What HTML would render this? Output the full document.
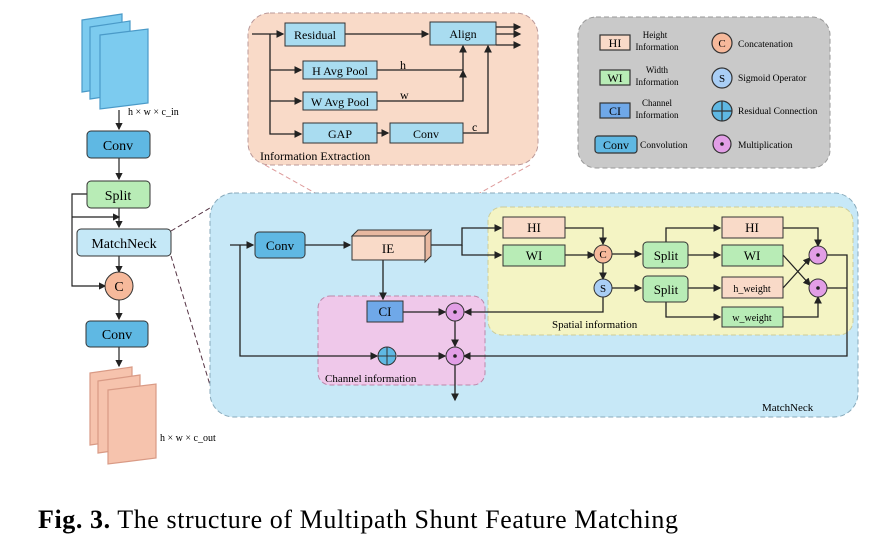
<!DOCTYPE html>
<html><head><style>body{margin:0;background:#fff}svg{display:block}text{font-family:"Liberation Serif",serif}</style></head><body>
<svg width="893" height="538" viewBox="0 0 893 538" xmlns="http://www.w3.org/2000/svg">
<defs><marker id="a" markerWidth="6" markerHeight="6" refX="5" refY="3" orient="auto"><path d="M0,0L6,3L0,6z" fill="#222"/></marker></defs>
<g stroke="#333" stroke-width="1.2" fill="none">
<g fill="#7ccbef" stroke="#4a9ac8"><path d="M82,20l40,-6v72l-40,6z"/><path d="M90,27l40,-6v72l-40,6z"/><path d="M100,35l48,-6v74l-48,6z"/></g>
<g fill="#f6c3ad" stroke="#d99a85"><path d="M90,373l42,-6v72l-42,6z"/><path d="M98,381l42,-6v72l-42,6z"/><path d="M108,390l48,-6v74l-48,6z"/></g>
</g>
<text x="128" y="115" font-size="10">h × w × c_in</text>
<text x="160" y="441" font-size="10">h × w × c_out</text>
<g stroke="#222" stroke-width="1.2" fill="none" marker-end="url(#a)">
<path d="M119,110v19"/><path d="M119,158v21"/><path d="M119,208v19"/><path d="M119,256v16"/><path d="M119,300v19"/><path d="M119,347v19"/>
<path d="M87,194h-15v92h33"/><path d="M72,217h47"/>
</g>
<g stroke="#333" fill="#5fb8e3"><rect x="87" y="131" width="63" height="27" rx="4"/><rect x="86" y="321" width="62" height="26" rx="4"/></g>
<rect x="87" y="181" width="63" height="27" rx="4" fill="#b8ecb6" stroke="#333"/>
<rect x="77" y="229" width="94" height="27" rx="4" fill="#c5e8f7" stroke="#333"/>
<circle cx="119" cy="286" r="14" fill="#f6b99b" stroke="#333"/>
<g font-size="14" text-anchor="middle"><text x="118" y="150">Conv</text><text x="118" y="200">Split</text><text x="124" y="248">MatchNeck</text><text x="119" y="291">C</text><text x="117" y="339">Conv</text></g>
<path d="M171,231L215,205M171,256L213,395" stroke="#553344" stroke-dasharray="5,3" fill="none"/>
<rect x="248" y="13" width="290" height="152" rx="22" fill="#f9dac8" stroke="#b99" stroke-dasharray="5,3"/>
<path d="M265,165L385,232M530,165L410,232" stroke="#d99" stroke-dasharray="5,3"/>
<rect x="210" y="193" width="648" height="224" rx="24" fill="#c7e8f7" stroke="#88aabb" stroke-dasharray="5,3"/>
<rect x="488" y="207" width="365" height="128" rx="14" fill="#f4f4c4" stroke="#cc9" stroke-dasharray="5,3"/>
<rect x="318" y="296" width="167" height="89" rx="12" fill="#efc8ea" stroke="#b8a" stroke-dasharray="5,3"/>
<rect x="578" y="17" width="252" height="151" rx="18" fill="#c9c9c9" stroke="#999" stroke-dasharray="5,3"/>
<g stroke="#333" stroke-width="1.2">
<rect x="600" y="35" width="30" height="15" fill="#f9dac8"/><rect x="600" y="70" width="30" height="15" fill="#b8ecb6"/><rect x="600" y="103" width="30" height="15" fill="#6fa8e8"/><rect x="595" y="136" width="42" height="17" rx="3" fill="#5fb8e3"/>
<circle cx="722" cy="43" r="10" fill="#f6b99b"/><circle cx="722" cy="78" r="10" fill="#a9cef5"/><circle cx="722" cy="111" r="10" fill="#5fb8e3"/><path d="M712,111h20M722,101v20"/><circle cx="722" cy="144" r="9" fill="#e29ee6"/>
</g>
<circle cx="722" cy="144" r="1.8" fill="#222"/>
<g font-size="12" text-anchor="middle"><text x="615" y="47">HI</text><text x="615" y="82">WI</text><text x="615" y="115">CI</text><text x="616" y="149">Conv</text><text x="722" y="47" font-size="11">C</text><text x="722" y="82" font-size="11">S</text></g>
<g font-size="9" text-anchor="middle"><text x="655" y="38">Height</text><text x="657" y="50">Information</text><text x="657" y="73">Width</text><text x="657" y="85">Information</text><text x="657" y="106">Channel</text><text x="657" y="118">Information</text></g>
<g font-size="9.5"><text x="640" y="148">Convolution</text><text x="738" y="47">Concatenation</text><text x="738" y="81">Sigmoid Operator</text><text x="738" y="114">Residual Connection</text><text x="738" y="148">Multiplication</text></g>
<g stroke="#222" stroke-width="1.3" fill="none" marker-end="url(#a)">
<path d="M252,34h31"/><path d="M345,34h83"/><path d="M270,34v100h31"/><path d="M270,70h31"/><path d="M270,101h31"/><path d="M377,133h11"/>
<path d="M377,70h86v-24"/><path d="M377,101h86v-30"/><path d="M463,133h25v-87"/>
<path d="M496,27h24"/><path d="M496,34h24"/><path d="M496,45h24"/>
</g>
<g fill="#a9dcf0" stroke="#333"><rect x="285" y="23" width="60" height="23"/><rect x="430" y="22" width="66" height="23"/><rect x="303" y="61" width="74" height="18"/><rect x="303" y="92" width="74" height="18"/><rect x="303" y="123" width="74" height="20"/><rect x="390" y="123" width="73" height="20"/></g>
<g font-size="12" text-anchor="middle"><text x="315" y="39">Residual</text><text x="463" y="38">Align</text><text x="340" y="75">H Avg Pool</text><text x="340" y="106">W Avg Pool</text><text x="340" y="138">GAP</text><text x="426" y="138">Conv</text></g>
<g font-size="12"><text x="400" y="69">h</text><text x="400" y="99">w</text><text x="472" y="131">c</text><text x="260" y="160">Information Extraction</text></g>
<g stroke="#222" stroke-width="1.3" fill="none" marker-end="url(#a)">
<path d="M230,245h23"/><path d="M305,245h45"/><path d="M240,245v111h137"/><path d="M397,356h48"/>
<path d="M383,258v41"/><path d="M403,312h42"/><path d="M455,321v25"/><path d="M455,365v35"/>
<path d="M428,245h34v-17h39"/><path d="M462,245v10h39"/><path d="M565,228h38v16"/><path d="M565,255h29"/><path d="M603,263v16"/>
<path d="M612,254h29"/><path d="M612,288h29"/><path d="M603,297v15h-138"/>
<path d="M666,242v-14h54"/><path d="M688,255h32"/><path d="M688,288h32"/><path d="M666,302v15h54"/>
<path d="M783,228h35v18"/><path d="M783,255l27,30"/><path d="M783,288l27,-30"/><path d="M783,317h35v-20"/>
<path d="M827,255h20v101h-383"/>
</g>
<path d="M827,288h20" stroke="#222" stroke-width="1.3"/>
<rect x="255" y="232" width="50" height="26" rx="4" fill="#5fb8e3" stroke="#333"/>
<path d="M352,236l6,-6h73l-6,6zM425,236l6,-6v26l-6,6z" fill="#e8b8a0" stroke="#333"/>
<rect x="352" y="236" width="73" height="24" fill="#f9dac8" stroke="#333"/>
<g stroke="#333"><rect x="503" y="217" width="62" height="21" fill="#f9dac8"/><rect x="503" y="245" width="62" height="21" fill="#b8ecb6"/>
<rect x="643" y="242" width="45" height="26" rx="4" fill="#b8ecb6"/><rect x="643" y="276" width="45" height="26" rx="4" fill="#b8ecb6"/>
<rect x="722" y="217" width="61" height="21" fill="#f9dac8"/><rect x="722" y="245" width="61" height="21" fill="#b8ecb6"/><rect x="722" y="277" width="61" height="21" fill="#f9dac8"/><rect x="722" y="307" width="61" height="20" fill="#b8ecb6"/>
<rect x="367" y="301" width="36" height="21" fill="#6fa8e8"/>
<circle cx="603" cy="254" r="9" fill="#f6b99b"/><circle cx="603" cy="288" r="9" fill="#a9cef5"/>
<circle cx="818" cy="255" r="9" fill="#e29ee6"/><circle cx="818" cy="288" r="9" fill="#e29ee6"/><circle cx="455" cy="312" r="9" fill="#e29ee6"/><circle cx="455" cy="356" r="9" fill="#e29ee6"/>
<circle cx="387" cy="356" r="9" fill="#5fb8e3"/><path d="M378,356h18M387,347v18"/></g>
<g fill="#222"><circle cx="818" cy="255" r="1.8"/><circle cx="818" cy="288" r="1.8"/><circle cx="455" cy="312" r="1.8"/><circle cx="455" cy="356" r="1.8"/></g>
<g font-size="13" text-anchor="middle"><text x="280" y="250">Conv</text><text x="388" y="253">IE</text><text x="534" y="232">HI</text><text x="534" y="260">WI</text><text x="603" y="258" font-size="11">C</text><text x="603" y="292" font-size="11">S</text>
<text x="666" y="260">Split</text><text x="666" y="294">Split</text><text x="752" y="232">HI</text><text x="752" y="260">WI</text><text x="385" y="316">CI</text>
<text x="752" y="292" font-size="10">h_weight</text><text x="752" y="321" font-size="10">w_weight</text></g>
<g font-size="11"><text x="552" y="328">Spatial information</text><text x="325" y="382">Channel information</text><text x="762" y="411">MatchNeck</text></g>
<text x="38" y="528" font-size="26" textLength="640" lengthAdjust="spacing"><tspan font-weight="bold">Fig. 3.</tspan> The structure of Multipath Shunt Feature Matching</text>
</svg>
</body></html>
